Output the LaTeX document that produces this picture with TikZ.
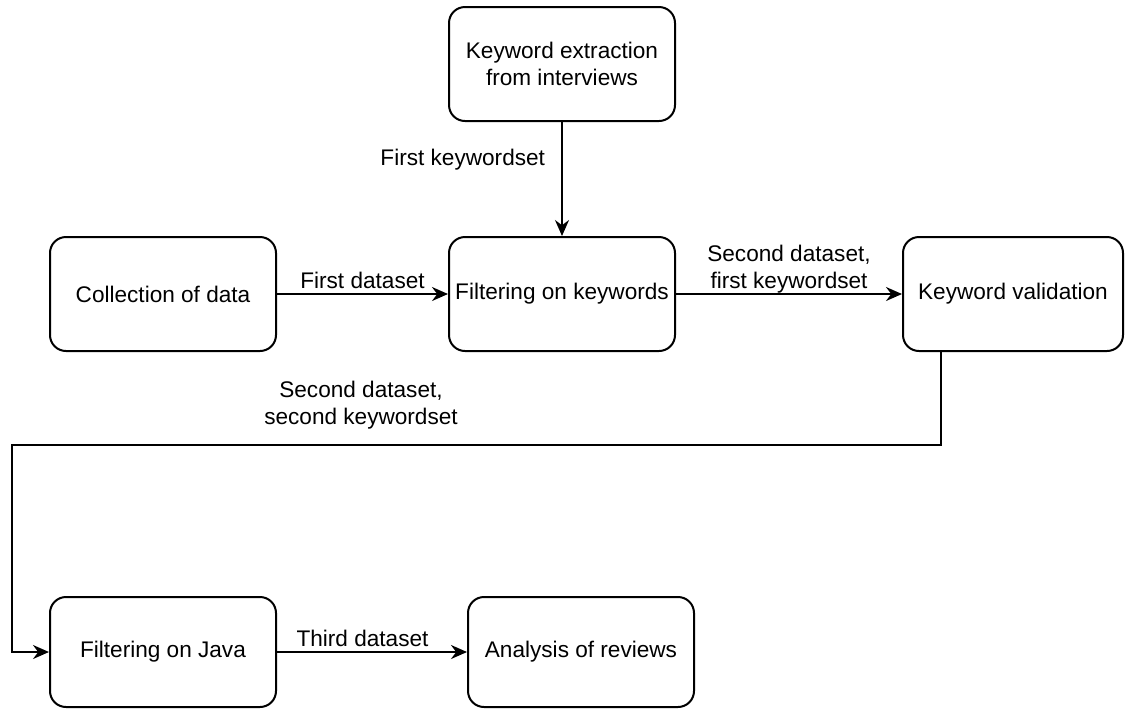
\documentclass[tikz,border=0pt]{standalone}
\usepackage{fontspec}
\setmainfont{Liberation Sans}
\usetikzlibrary{arrows.meta,calc,positioning}

\tikzset{
  stepbox/.style={draw, line width=1pt, rounded corners=8pt, align=center,
    minimum width=113pt, minimum height=57pt, inner sep=2pt},
  flow/.style={line width=1pt, -{Stealth[length=8pt,width=7pt]}},
  lbl/.style={align=center, inner sep=2pt}
}

\begin{document}
\begin{tikzpicture}[x=0.5pt, y=-0.5pt, font=\fontsize{11.3}{13.5}\selectfont]
        \useasboundingbox (0,0) rectangle (1125,709);
        % boxes
        \node[stepbox] (extract) at (562,64) {Keyword extraction\\from interviews};
        \node[stepbox] (collect) at (163,294) {Collection of data};
        \node[stepbox] (filterkw) at (562,294) {Filtering on keywords};
        \node[stepbox, minimum width=110pt] (validate) at (1013,294) {Keyword validation};
        \node[stepbox, minimum height=55pt] (filterjava) at (163,652) {Filtering on Java};
        \node[stepbox, minimum height=55pt] (analysis) at (581,652) {Analysis of reviews};
        % connectors
        \draw[flow] (extract) -- node[lbl, pos=0.33, left=6pt] {First keywordset} (filterkw);
        \draw[flow] (collect) -- node[lbl, above] {First dataset} (filterkw);
        \draw[flow] (filterkw) -- node[lbl, above, yshift=-2pt] {Second dataset,\\first keywordset} (validate);
        \coordinate (turn) at (941,445);
        \coordinate (corner) at (12,445);
        \draw[flow] (validate.south -| turn) -- (turn) -- (corner) |- (filterjava.west);
        \node[lbl] (secondlbl) at (361,405) {Second dataset,\\second keywordset};
        \draw[flow] (filterjava) -- node[lbl, above, pos=0.45] {Third dataset} (analysis);
\end{tikzpicture}
\end{document}
